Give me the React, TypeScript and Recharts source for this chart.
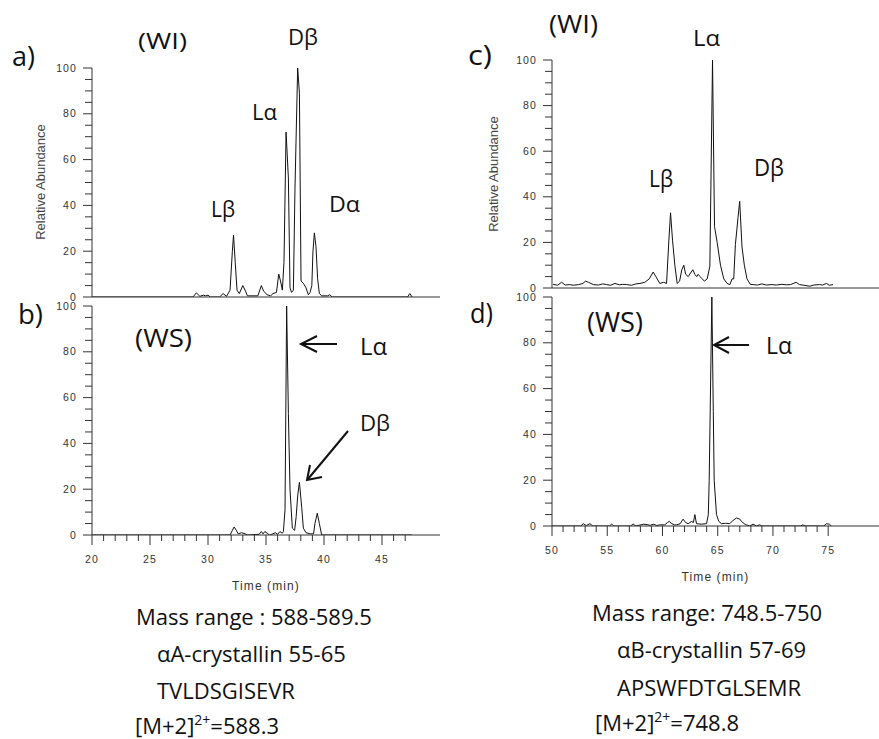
import React from "react";
import { LineChart, Line, XAxis, YAxis } from "recharts";

// chromatogram traces: [retention time (min), relative abundance (%)]
const wiAlphaA: [number, number][] = [
  [20, 0], [28.7, 0], [29.0, 1.8], [29.3, 0.3], [29.6, 0.8], [29.8, 0.5], [30.0, 0.8], [30.2, 0],
  [31.0, 0], [31.3, 1.5], [31.6, 0.3], [31.9, 3], [32.1, 20], [32.2, 27], [32.35, 15], [32.5, 3],
  [32.7, 1.5], [33.0, 5], [33.2, 3], [33.4, 0.5], [34.3, 0.5], [34.6, 5], [34.8, 2.5], [35.1, 1],
  [35.4, 0.5], [35.6, 1.5], [35.9, 2], [36.1, 10], [36.25, 7], [36.41, 3], [36.55, 15], [36.73, 72],
  [36.93, 52], [37.07, 4], [37.2, 2], [37.36, 3], [37.5, 48], [37.73, 100], [37.88, 89], [38.02, 7],
  [38.22, 6], [38.45, 4], [38.65, 1], [38.8, 2], [38.95, 5], [39.05, 20], [39.17, 28], [39.31, 22],
  [39.45, 8], [39.6, 1.5], [39.8, 0.5], [40.3, 0.5], [40.5, 1], [40.7, 0], [47.2, 0], [47.4, 1.5],
  [47.6, 0],
];

const wsAlphaA: [number, number][] = [
  [20, 0], [31.9, 0], [32.1, 2], [32.25, 3.5], [32.45, 2], [32.6, 0.5], [32.9, 1], [33.2, 0.5],
  [33.4, 0], [34.4, 0.3], [34.6, 1.5], [34.75, 0.5], [34.9, 1.5], [35.1, 0.8], [35.3, 0], [35.6, 0.5],
  [35.8, 1], [36.0, 0.3], [36.2, 1.5], [36.4, 0.8], [36.5, 1.5], [36.64, 11], [36.78, 100], [36.93, 53],
  [37.07, 20], [37.27, 3], [37.47, 2], [37.6, 8], [37.73, 17], [37.88, 23], [38.08, 12], [38.22, 3],
  [38.45, 1], [38.8, 0.5], [39.1, 0.5], [39.22, 5], [39.42, 9.5], [39.6, 5], [39.8, 0], [47.6, 0],
];

const wiAlphaB: [number, number][] = [
  [50.1, 1.6], [50.5, 1.2], [50.87, 2.5], [51.2, 1.3], [51.6, 1.5], [51.93, 1.2], [52.4, 1.5],
  [52.8, 2], [53.04, 3], [53.3, 2.5], [53.74, 1.5], [54.2, 1.3], [54.6, 1.8], [54.94, 1.5],
  [55.3, 1.2], [55.7, 2], [56.1, 1.4], [56.4, 1.6], [56.75, 1.5], [57.2, 1.2], [57.6, 1.8],
  [57.96, 2], [58.4, 2.5], [58.8, 4], [59.16, 7], [59.4, 5], [59.76, 2], [60.1, 2.5], [60.37, 2],
  [60.58, 21], [60.73, 33], [60.91, 21], [61.12, 10], [61.33, 2], [61.55, 3], [61.75, 8],
  [61.93, 10], [62.1, 6], [62.33, 5], [62.6, 7], [62.75, 8], [62.93, 6], [63.1, 5], [63.23, 6],
  [63.4, 5], [63.6, 4], [63.8, 3], [64.05, 4], [64.29, 9.6], [64.53, 100], [64.71, 27],
  [64.95, 20], [65.25, 10], [65.55, 4], [65.85, 2], [66.1, 1.5], [66.3, 4], [66.45, 4],
  [66.6, 19], [66.84, 31], [66.99, 38], [67.2, 18], [67.41, 10], [67.65, 4], [67.95, 1.6],
  [68.2, 1.5], [68.6, 1.3], [69.0, 1.8], [69.4, 1.3], [69.9, 1.5], [70.3, 1.3], [70.8, 1.6],
  [71.2, 1.4], [71.6, 1.5], [72.1, 2.5], [72.4, 1.5], [72.8, 1.2], [73.33, 0.8], [73.7, 1.3],
  [74.2, 1.5], [74.5, 1.3], [74.84, 2], [75.1, 1.2], [75.44, 1.5],
];

const wsAlphaB: [number, number][] = [
  [50.0, 0], [52.6, 0], [52.83, 1], [53.1, 0.2], [53.44, 1], [53.7, 0], [55.2, 0], [55.4, 0.8],
  [55.6, 0], [57.1, 0], [57.35, 0.8], [57.6, 0], [58.3, 0.8], [58.6, 0.6], [58.9, 0.3], [59.16, 0.8],
  [59.5, 0.2], [59.76, 0.5], [60.2, 0.5], [60.45, 1.5], [60.61, 2], [60.85, 1], [61.1, 0.5],
  [61.27, 0.5], [61.6, 1], [61.87, 3], [62.1, 1.5], [62.33, 1], [62.63, 2], [62.8, 1.5], [62.93, 5],
  [63.08, 1], [63.5, 0.8], [63.99, 1], [64.15, 5], [64.23, 20], [64.47, 100], [64.6, 50],
  [64.68, 20], [64.89, 5], [65.1, 2], [65.34, 1], [65.7, 1.2], [66.09, 1], [66.4, 2.5], [66.7, 3.5],
  [67.0, 3], [67.15, 2], [67.4, 1], [67.6, 0.5], [67.9, 0], [68.2, 0.8], [68.5, 0], [68.8, 0.5],
  [69.0, 0], [72.5, 0], [72.7, 0.5], [72.9, 0], [74.6, 0], [74.84, 1], [75.1, 0.8], [75.29, 0],
];

const yTicks = [0, 5, 10, 15, 20, 25, 30, 35, 40, 45, 50, 55, 60, 65, 70, 75, 80, 85, 90, 95, 100];
const xTicksA = [20, 21, 22, 23, 24, 25, 26, 27, 28, 29, 30, 31, 32, 33, 34, 35, 36, 37, 38, 39, 40, 41, 42, 43, 44, 45, 46, 47];
const xTicksB = [50, 51, 52, 53, 54, 55, 56, 57, 58, 59, 60, 61, 62, 63, 64, 65, 66, 67, 68, 69, 70, 71, 72, 73, 74, 75];

const toRows = (pts: [number, number][]) => pts.map(([t, v]) => ({ t, v }));

const axisFont = "'Liberation Sans', Arial, sans-serif";
const noteFont = "'Open Sans', 'Noto Sans', sans-serif";
const tickStyle = { fontFamily: axisFont, fontSize: 10.5, fill: "#333", letterSpacing: 1.1 };

const YTick = ({ x, y, payload }: any) => {
  const major = payload.value % 20 === 0;
  return (
    <g>
      <line x1={x} x2={x - (major ? 9 : 7)} y1={y} y2={y} stroke="#333" />
      {major && (
        <text x={x - 15} y={y + 3.5} textAnchor="end" style={tickStyle}>
          {payload.value}
        </text>
      )}
    </g>
  );
};

const XTick = ({ x, y, payload }: any) => {
  const major = payload.value % 5 === 0;
  return (
    <g>
      <line x1={x} x2={x} y1={y} y2={y + (major ? 10 : 6)} stroke="#333" />
      {major && (
        <text x={x} y={y + 28} textAnchor="middle" style={tickStyle}>
          {payload.value}
        </text>
      )}
    </g>
  );
};

interface PanelProps {
  data: [number, number][];
  left: number;
  top: number;
  width: number;
  height: number;
  marginTop: number;
  yAxisWidth: number;
  xAxisHeight: number;
  domain: [number, number];
  ticks?: number[];
  titleOffset?: number;
}

function Panel({ data, left, top, width, height, marginTop, yAxisWidth, xAxisHeight, domain, ticks, titleOffset }: PanelProps) {
  return (
    <div style={{ position: "absolute", left, top }}>
      <LineChart width={width} height={height} data={toRows(data)} margin={{ top: marginTop, right: 0, bottom: 0, left: 0 }}>
        <XAxis
          dataKey="t"
          type="number"
          domain={domain}
          allowDataOverflow
          height={xAxisHeight}
          axisLine={{ stroke: "#333" }}
          ticks={ticks}
          interval={0}
          tickSize={0}
          tickMargin={0}
          tickLine={false}
          tick={ticks ? <XTick /> : false}
          label={
            ticks
              ? {
                  value: "Time (min)",
                  position: "insideBottom",
                  offset: titleOffset,
                  fill: "#333",
                  fontSize: 12,
                  style: { fontFamily: axisFont, letterSpacing: 1.1 },
                }
              : undefined
          }
        />
        <YAxis
          type="number"
          domain={[0, 100]}
          allowDataOverflow
          width={yAxisWidth}
          axisLine={{ stroke: "#333" }}
          ticks={yTicks}
          interval={0}
          tickSize={0}
          tickMargin={0}
          tickLine={false}
          tick={<YTick />}
        />
        <Line dataKey="v" type="linear" stroke="#111" strokeWidth={1} dot={false} isAnimationActive={false} />
      </LineChart>
    </div>
  );
}

// annotation text, stretched to the width it has in the figure
const Note = ({ x, y, size, w, children }: any) => (
  <text x={x} y={y} fontSize={size} fontFamily={noteFont} fill="#111" textLength={w} lengthAdjust="spacingAndGlyphs">
    {children}
  </text>
);

export default function App() {
  return (
    <div style={{ position: "absolute", left: 0, top: 0, width: 879, height: 739, background: "#fff", overflow: "hidden" }}>
      {/* a) WI, αA-crystallin */}
      <Panel data={wiAlphaA} left={0} top={0} width={440} height={310} marginTop={68} yAxisWidth={92} xAxisHeight={13} domain={[20, 50]} />
      {/* b) WS, αA-crystallin */}
      <Panel data={wsAlphaA} left={0} top={290} width={440} height={320} marginTop={16} yAxisWidth={92} xAxisHeight={75} domain={[20, 50]} ticks={xTicksA} titleOffset={20} />
      {/* c) WI, αB-crystallin */}
      <Panel data={wiAlphaB} left={440} top={0} width={439} height={310} marginTop={60} yAxisWidth={112} xAxisHeight={22} domain={[50, 79.6]} />
      {/* d) WS, αB-crystallin */}
      <Panel data={wsAlphaB} left={440} top={290} width={439} height={320} marginTop={7} yAxisWidth={112} xAxisHeight={84} domain={[50, 79.6]} ticks={xTicksB} titleOffset={29} />

      <svg width={879} height={739} style={{ position: "absolute", left: 0, top: 0, pointerEvents: "none" }}>
        {/* y-axis titles */}
        <text x={40} y={182} transform="rotate(-90 40 182)" textAnchor="middle" dominantBaseline="central" fontSize={13} fontFamily={axisFont} fill="#444">
          Relative Abundance
        </text>
        <text x={493} y={174} transform="rotate(-90 493 174)" textAnchor="middle" dominantBaseline="central" fontSize={13} fontFamily={axisFont} fill="#444">
          Relative Abundance
        </text>

        {/* panel a */}
        <Note x={12} y={66} size={27} w={23}>a)</Note>
        <Note x={138} y={49} size={22} w={49}>(WI)</Note>
        <Note x={288} y={45} size={21} w={30}>Dβ</Note>
        <Note x={252} y={120} size={22} w={25}>Lα</Note>
        <Note x={211} y={217} size={22} w={24}>Lβ</Note>
        <Note x={329} y={212} size={22} w={31}>Dα</Note>

        {/* panel b */}
        <Note x={18} y={324} size={27} w={25}>b)</Note>
        <Note x={135} y={347} size={26} w={57}>(WS)</Note>
        <Note x={360} y={355} size={24} w={27}>Lα</Note>
        <Note x={360} y={431} size={22} w={30}>Dβ</Note>
        <g stroke="#111" strokeWidth={2} fill="none">
          <line x1={301} y1={344} x2={337} y2={344} />
          <polyline points="317,336 301,344 317,352" />
          <line x1={348} y1={431} x2={308} y2={479} />
          <polyline points="310,465 307,480 322,477" />
        </g>

        {/* panel c */}
        <Note x={468} y={65} size={27} w={24}>c)</Note>
        <Note x={549} y={33} size={25} w={49}>(WI)</Note>
        <Note x={693} y={46} size={21} w={27}>Lα</Note>
        <Note x={649} y={187} size={24} w={24}>Lβ</Note>
        <Note x={754} y={176} size={23} w={30}>Dβ</Note>

        {/* panel d */}
        <Note x={470} y={323} size={27} w={23}>d)</Note>
        <Note x={587} y={332} size={27} w={56}>(WS)</Note>
        <Note x={766} y={354} size={23} w={26}>Lα</Note>
        <g stroke="#111" strokeWidth={2} fill="none">
          <line x1={714} y1={345} x2={749} y2={345} />
          <polyline points="729,337 714,345 729,353" />
        </g>

        {/* peptide info */}
        <g fontFamily={noteFont} fontSize={22} fill="#111" style={{ whiteSpace: "pre" }}>
          <text x={136} y={625}>Mass range : 588-589.5</text>
          <text x={157} y={662}>αA-crystallin  55-65</text>
          <text x={157} y={699}>TVLDSGISEVR</text>
          <text x={135} y={734}>
            [M+2]<tspan dy={-9} fontSize={14}>2+</tspan>
            <tspan dy={9}>=588.3</tspan>
          </text>

          <text x={592} y={621}>Mass range: 748.5-750</text>
          <text x={617} y={658}>αB-crystallin  57-69</text>
          <text x={617} y={696}>APSWFDTGLSEMR</text>
          <text x={595} y={731}>
            [M+2]<tspan dy={-9} fontSize={14}>2+</tspan>
            <tspan dy={9}>=748.8</tspan>
          </text>
        </g>
      </svg>
    </div>
  );
}
